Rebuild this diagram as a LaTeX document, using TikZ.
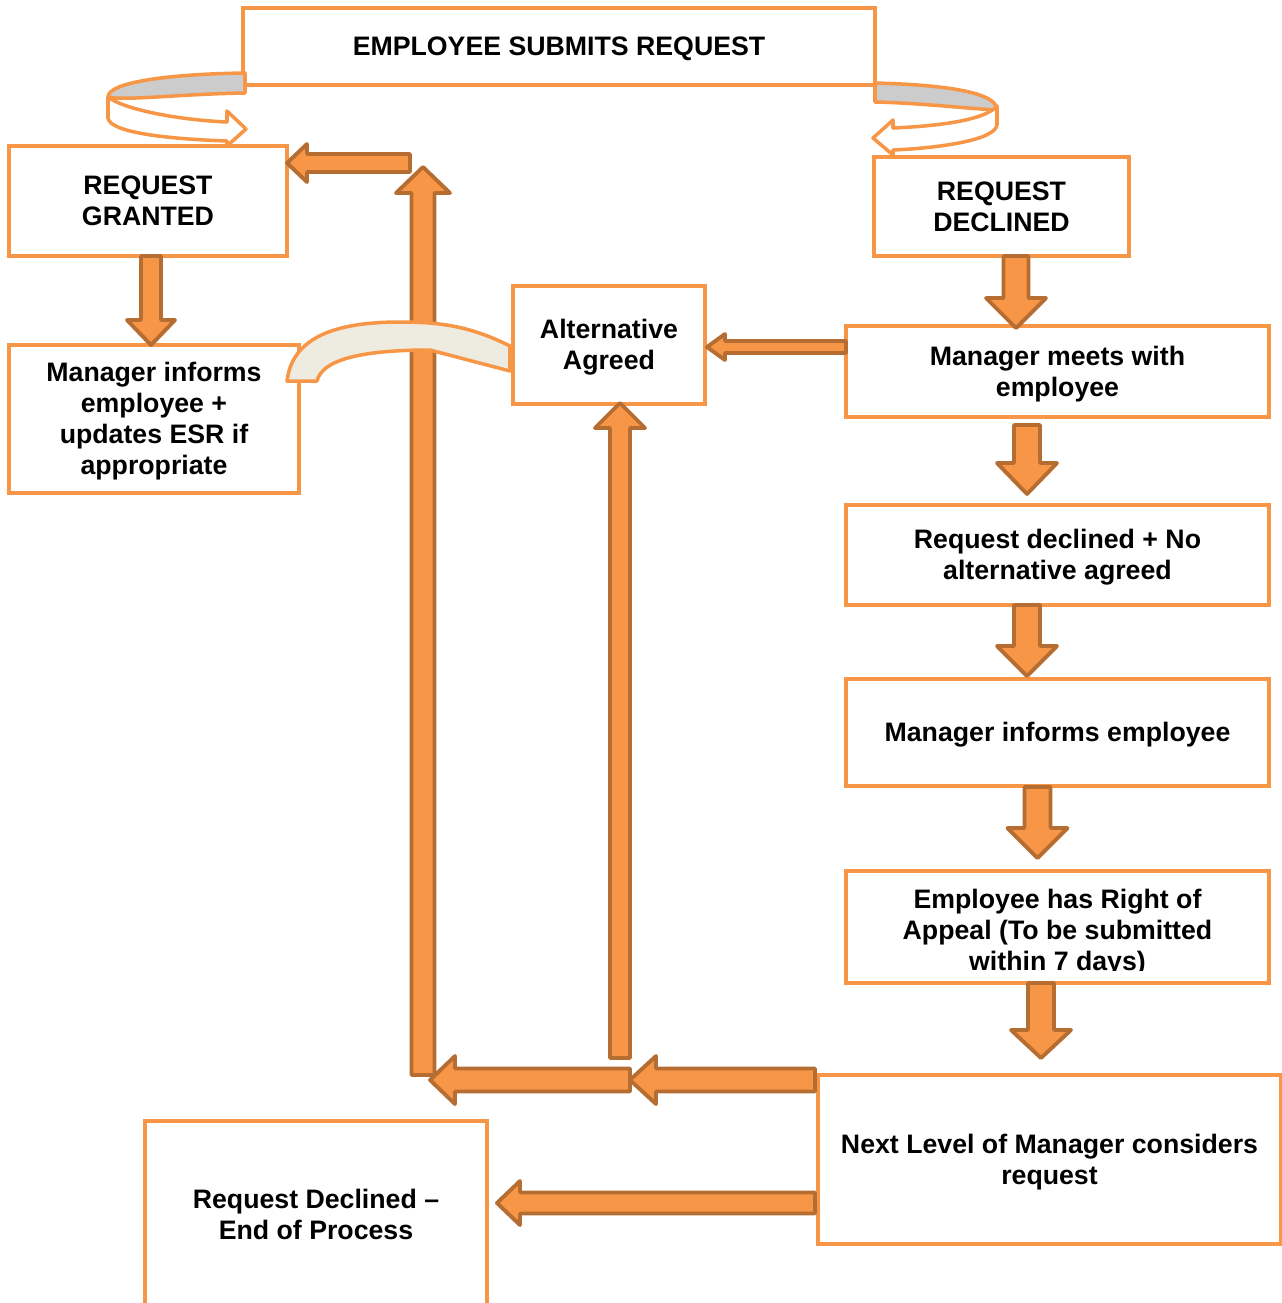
\documentclass[tikz,border=0pt]{standalone}
\usepackage{fontspec}
\setmainfont{Liberation Sans}
\usetikzlibrary{calc}
\definecolor{floworange}{HTML}{F79646}
\definecolor{flowbrown}{HTML}{B66D31}
\definecolor{ribbongray}{HTML}{CCCCCC}
\definecolor{ribbonbeige}{HTML}{EEECE1}
\def\blockarrow[#1](#2)(#3)(#4:#5:#6){%
	\coordinate (neck) at ($(#3)!#6!(#2)$);
	\draw[#1] ($(#2)!#4!90:(#3)$) -- ($(neck)!#4!90:(#3)$) -- ($(neck)!#5!90:(#3)$) -- (#3)
		-- ($(neck)!#5!-90:(#3)$) -- ($(neck)!#4!-90:(#3)$) -- ($(#2)!#4!-90:(#3)$) -- cycle;}
\tikzset{
	flowbox/.style={draw=floworange, line width=2pt, fill=white, align=center, inner sep=0pt, outer sep=0pt,
		font=\bfseries\fontsize{15.2}{17.75}\selectfont, text depth=3.66pt},
	oneline/.style={text height=14.1pt},
	twoline/.style={text height=31.85pt},
	threeline/.style={text height=49.6pt},
	fourline/.style={text height=67.35pt},
	flowarrow/.style={draw=flowbrown, fill=floworange, line width=2.2pt, line join=round},
	ribbon/.style={draw=floworange, line width=2pt, line join=round}
}

\begin{document}
\begin{tikzpicture}[x=0.02cm, y=-0.02cm]
		%%%%% START %%%%%
		\useasboundingbox (0,0) rectangle (1282,1303);
		
		\node[flowbox, oneline, minimum width=12.64cm, minimum height=1.54cm] (submit) at (559,46.5) {EMPLOYEE SUBMITS REQUEST};
		\node[flowbox, twoline, minimum width=5.56cm, minimum height=2.2cm] (granted) at (148,201) {REQUEST\\GRANTED};
		\node[flowbox, twoline, minimum width=5.1cm, minimum height=1.98cm] (declined) at (1001.5,206.5) {REQUEST\\DECLINED};
		\node[flowbox, fourline, minimum width=5.8cm, minimum height=2.96cm] (informsesr) at (154,419) {Manager informs\\employee +\\updates ESR if\\appropriate};
		\node[flowbox, twoline, minimum width=3.84cm, minimum height=2.36cm] (agreed) at (609,345) {Alternative\\Agreed};
		\node[flowbox, twoline, minimum width=8.46cm, minimum height=1.82cm] (meets) at (1057.5,371.5) {Manager meets with\\employee};
		\node[flowbox, twoline, minimum width=8.46cm, minimum height=2cm] (noalt) at (1057.5,555) {Request declined + No\\alternative agreed};
		\node[flowbox, oneline, minimum width=8.46cm, minimum height=2.14cm] (informs) at (1057.5,732.5) {Manager informs employee};
		% text of the appeal box sits low and is cut short above its frame
		\begin{scope}
			\clip (800,850) rectangle (1300,970);
			\node[flowbox, threeline, draw=none, minimum width=8.46cm, minimum height=2.24cm] (appeal) at (1057.5,930.5) {Employee has Right of\\Appeal (To be submitted\\within 7 days)};
		\end{scope}
		\draw[draw=floworange, line width=2pt] ($(appeal.south west)+(0,-3.5)$) rectangle ($(appeal.north east)+(0,-3.5)$);
		\node[flowbox, twoline, minimum width=9.26cm, minimum height=3.38cm] (nextlevel) at (1049.5,1159.5) {Next Level of Manager considers\\request};
		\node[flowbox, twoline, minimum width=6.84cm, minimum height=3.76cm] (endproc) at (316,1215) {Request Declined --\\End of Process};
		
		% free ends of the return arrows
		\coordinate (split) at (630,1080);
		\coordinate (corner) at (430,1080);
		\coordinate (risebase) at (423,1075);
		\coordinate (risetop) at (423,167);
		\coordinate (turn) at (410,163);
		\coordinate (altbase) at (620,1058);
		
		\coordinate (a1s) at ($(granted.south)+(3,0)$);
		\coordinate (a1e) at ($(informsesr.north)+(-3,0)$);
		\coordinate (a2s) at ($(declined.south)+(14.5,0)$);
		\coordinate (a2e) at ($(meets.north)+(-41.5,2)$);
		\coordinate (a3s) at ($(meets.south)+(-30.5,8)$);
		\coordinate (a3e) at ($(noalt.north)+(-30.5,-11)$);
		\coordinate (a4s) at ($(noalt.south)+(-30.5,0)$);
		\coordinate (a4e) at ($(informs.north)+(-30.5,-3)$);
		\coordinate (a5s) at ($(informs.south)+(-20,1)$);
		\coordinate (a5e) at ($(appeal.north)+(-20,-16.5)$);
		\coordinate (a6s) at ($(appeal.south)+(-16.5,-3.5)$);
		\coordinate (a6e) at ($(nextlevel.north)+(-8.5,-17)$);
		\coordinate (a7s) at ($(meets.west)+(0,-24.5)$);
		\coordinate (a7e) at ($(agreed.east)+(2,2)$);
		\coordinate (a8s) at ($(nextlevel.west)+(-3,-79.5)$);
		\coordinate (a11e) at ($(granted.east)+(0,-38)$);
		\coordinate (a12e) at ($(agreed.south)+(11,-1)$);
		\coordinate (a13s) at ($(nextlevel.west)+(-3,43.5)$);
		\coordinate (a13e) at ($(endproc.east)+(10,-12)$);
		
		\blockarrow[flowarrow](a1s)(a1e)(0.2cm:0.48cm:0.5cm)
		\blockarrow[flowarrow](a2s)(a2e)(0.25cm:0.6cm:0.6cm)
		\blockarrow[flowarrow](a3s)(a3e)(0.26cm:0.6cm:0.62cm)
		\blockarrow[flowarrow](a4s)(a4e)(0.26cm:0.6cm:0.6cm)
		\blockarrow[flowarrow](a5s)(a5e)(0.26cm:0.6cm:0.6cm)
		\blockarrow[flowarrow](a6s)(a6e)(0.26cm:0.6cm:0.56cm)
		\blockarrow[flowarrow](a7s)(a7e)(0.12cm:0.26cm:0.36cm)
		
		\blockarrow[flowarrow](risebase)(risetop)(0.23cm:0.54cm:0.52cm)
		\blockarrow[flowarrow](turn)(a11e)(0.18cm:0.38cm:0.4cm)
		\blockarrow[flowarrow](altbase)(a12e)(0.2cm:0.5cm:0.5cm)
		\blockarrow[flowarrow](split)(corner)(0.23cm:0.48cm:0.5cm)
		\blockarrow[flowarrow](a8s)(split)(0.23cm:0.48cm:0.52cm)
		\blockarrow[flowarrow](a13s)(a13e)(0.21cm:0.44cm:0.46cm)
		
		% curled arrows off the top box
		\draw[ribbon, fill=ribbongray] (245,73) .. controls (170,74) and (108,82) .. (108,97)
			.. controls (125,101) and (180,94) .. (245,93) -- cycle;
		\draw[ribbon, fill=white] (108,97) .. controls (125,110) and (180,120) .. (227,122) -- (227,111) -- (246,129)
			-- (227,146) -- (227,141) .. controls (170,139) and (110,133) .. (108,118) -- cycle;
		
		\draw[ribbon, fill=ribbongray] (875,83) .. controls (950,85) and (997,93) .. (997,110)
			.. controls (960,108) and (920,103) .. (875,102) -- cycle;
		\draw[ribbon, fill=white] (997,106) -- (997,125) .. controls (995,140) and (940,148) .. (893,150) -- (893,155)
			-- (873,138) -- (893,120) -- (893,128) .. controls (940,126) and (985,120) .. (997,106) -- cycle;
		
		% ribbon from the agreed alternative
		\draw[ribbon, fill=ribbonbeige] (510,346) .. controls (470,326) and (440,322) .. (400,322)
			.. controls (330,322) and (292,340) .. (287,381) -- (317,381)
			.. controls (322,360) and (360,350) .. (430,350) -- (510,371) -- cycle;
		
		%%%%% END %%%%%
\end{tikzpicture}
\end{document}
